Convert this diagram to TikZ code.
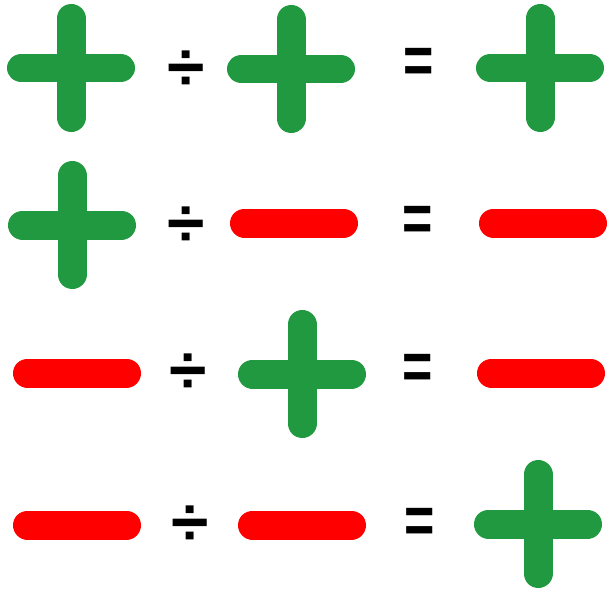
\documentclass[tikz,border=0pt]{standalone}
\usepackage{fontspec}
\setmainfont{Liberation Sans}
\definecolor{plusgreen}{RGB}{33,153,64}
\definecolor{minusred}{RGB}{255,0,0}
\tikzset{
  bar/.style={line width=14.5pt, line cap=round},
  pics/plussign/.style={code={
    \draw[bar, plusgreen] (-49.5,0) -- (49.5,0);
    \draw[bar, plusgreen] (0,-49.5) -- (0,49.5);
  }},
  pics/minussign/.style={code={
    \draw[bar, minusred] (-49.5,0) -- (49.5,0);
  }}
}

\begin{document}
\begin{tikzpicture}[x=0.5pt, y=-0.5pt, inner sep=0pt]
  \fill[white] (0,0) rectangle (607,594);
  \useasboundingbox (0,0) rectangle (607,594);
  % signs in the three operand columns
  \foreach \x/\y/\s in {71/68/plussign, 291/69/plussign, 540/68/plussign,
                        72/225/plussign, 294/223/minussign, 543/223/minussign,
                        77/373/minussign, 302/374/plussign, 541/373/minussign,
                        77/525/minussign, 302/525/minussign, 538/524/plussign}{
    \pic at (\x,\y) {\s};
  }
  % divide and equal operators
  \foreach \r/\dx/\dy/\ex/\ey in {1/186/71/419/66, 2/186/227/418/224,
                                  3/188/374/418/372, 4/190/526/420/526}{
    \node[font=\fontsize{34}{34}\selectfont\bfseries] (div\r) at (\dx,\dy) {÷};
    \node[font=\fontsize{26}{26}\selectfont\bfseries] (eq\r) at (\ex,\ey) {\scalebox{1}[1.3]{=}};
  }
\end{tikzpicture}
\end{document}
